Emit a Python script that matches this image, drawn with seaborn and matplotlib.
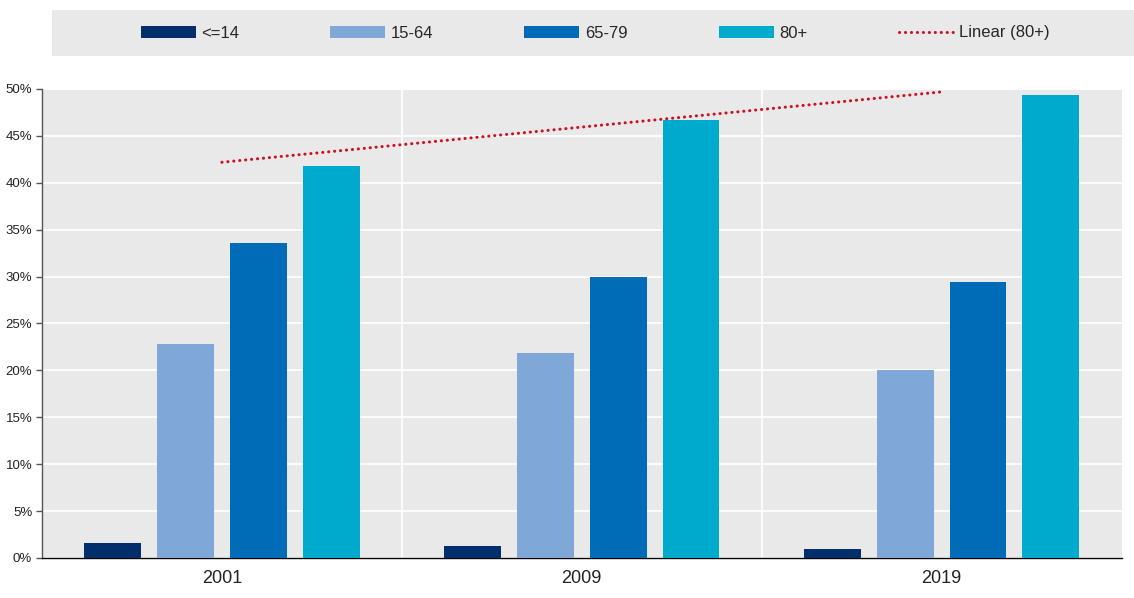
import numpy as np
import pandas as pd
import matplotlib
matplotlib.use("Agg")
import matplotlib.pyplot as plt
from matplotlib.patches import Rectangle, Patch
from matplotlib.lines import Line2D
from matplotlib.ticker import PercentFormatter, FixedLocator
import seaborn as sns

# Share of each age group, by year (%)
years = ["2001", "2009", "2019"]
age_groups = ["<=14", "15-64", "65-79", "80+"]
share_le14 = [1.6, 1.3, 1.0]
share_15_64 = [22.8, 21.9, 20.0]
share_65_79 = [33.6, 29.9, 29.4]
share_80plus = [41.8, 46.7, 49.3]

colors = ["#002F6C", "#7FA8D9", "#006BB6", "#00AACC"]
bg = "#E9E9E9"

sns.set_theme(style="white")
plt.rcParams["font.family"] = ["Liberation Sans", "DejaVu Sans"]

df = pd.DataFrame({
    "year": np.repeat(years, len(age_groups)),
    "group": age_groups * len(years),
    "value": np.ravel(np.column_stack([share_le14, share_15_64, share_65_79, share_80plus])),
})

fig = plt.figure(figsize=(11.34, 5.98), dpi=100)
ax = fig.add_axes([0.037, 0.0669, 0.952, 0.7844])
ax.set_facecolor(bg)

sns.barplot(data=df, x="year", y="value", hue="group", order=years,
            hue_order=age_groups, palette=colors, width=0.81, gap=0.22,
            saturation=1, legend=False, ax=ax, zorder=3, linewidth=0, edgecolor="none")

# Linear trend of the 80+ series
xpos = np.arange(len(years))
slope, intercept = np.polyfit(xpos, share_80plus, 1)
trend_style = dict(color="#CC1122", lw=2.2, linestyle=(0, (0.05, 1.9)),
                   dash_capstyle="round")
ax.plot([xpos[0], xpos[-1]], [intercept + slope * xpos[0], intercept + slope * xpos[-1]],
        zorder=4, **trend_style)

ax.set_xlim(-0.5, len(years) - 0.5)
ax.set_ylim(0, 50)
ax.set_yticks(np.arange(0, 51, 5))
ax.yaxis.set_major_formatter(PercentFormatter(100, decimals=0))
ax.xaxis.set_minor_locator(FixedLocator([0.5, 1.5]))
ax.grid(axis="y", color="white", lw=1.3, zorder=1)
ax.grid(axis="x", which="minor", color="white", lw=1.3, zorder=1)
ax.set_axisbelow(True)
ax.set_xlabel("")
ax.set_ylabel("")

for s in ("top", "right"):
    ax.spines[s].set_visible(False)
ax.spines["left"].set_color("#555555")
ax.spines["left"].set_linewidth(1.0)
ax.spines["bottom"].set_color("black")
ax.spines["bottom"].set_linewidth(1.0)

ax.tick_params(axis="x", which="major", length=0, labelsize=13, pad=9, colors="#222222")
ax.tick_params(axis="x", which="minor", direction="in", length=6, width=1, color="black")
ax.tick_params(axis="y", which="major", direction="out", length=4, width=1,
               color="#555555", labelsize=9.5, pad=3, labelcolor="#222222", left=True)

# Legend band across the top
fig.add_artist(Rectangle((52 / 1134, 1 - 56 / 598), 1 - 52 / 1134, 46 / 598,
                         transform=fig.transFigure, facecolor=bg, edgecolor="none", zorder=0))
handles = [Patch(facecolor=c, edgecolor="none") for c in colors]
handles.append(Line2D([], [], **trend_style))
labels = age_groups + ["Linear (80+)"]
fig.legend(handles, labels, loc="center", bbox_to_anchor=(0.525, 1 - 33 / 598),
           ncol=5, frameon=False, fontsize=12, handlelength=3.3, handleheight=0.7,
           handletextpad=0.35, columnspacing=5.45)

fig.savefig("out.png", dpi=100)
